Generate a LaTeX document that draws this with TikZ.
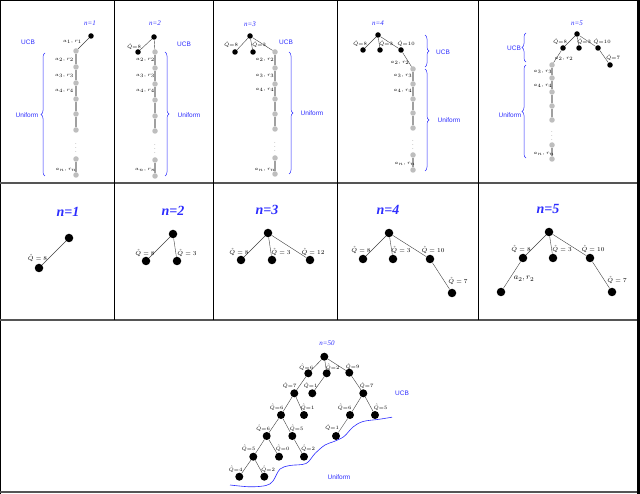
\documentclass[tikz,border=0pt]{standalone}
\usepackage{fontspec}
\newfontfamily\serfont{Liberation Serif}
\newfontfamily\sanfont{Liberation Sans}
\usetikzlibrary{decorations.pathreplacing}
\definecolor{ublue}{RGB}{45,45,255}
\definecolor{nodegray}{RGB}{190,190,190}
\definecolor{chaingray}{RGB}{160,160,160}
\definecolor{sepgray}{RGB}{85,85,85}
\begin{document}
\begin{tikzpicture}[x=1pt,y=-1pt,
 bn/.style={circle,fill=black,inner sep=0,minimum size=5.5pt},
 gn/.style={circle,fill=nodegray,inner sep=0,minimum size=5.5pt},
 mn/.style={circle,fill=black,inner sep=0,minimum size=8.5pt},
 sn/.style={circle,fill=black,inner sep=0,minimum size=8pt},
 edge/.style={draw=black!75,line width=0.4pt},
 chain/.style={draw=chaingray,line width=1.6pt},
 vdts/.style={inner sep=0,text=chaingray,font=\fontsize{9}{9}\selectfont},
 tl/.style={inner sep=0,font=\fontsize{4.3}{5}\selectfont},
 ml/.style={inner sep=0,font=\fontsize{6}{7}\selectfont},
 al/.style={inner sep=0,font=\fontsize{8}{9}\selectfont},
 ttl/.style={text=ublue,inner sep=0,font=\serfont\itshape\fontsize{7}{8}\selectfont},
 bigttl/.style={text=ublue,inner sep=0,font=\serfont\bfseries\itshape\fontsize{14}{15}\selectfont},
 blab/.style={text=ublue,inner sep=0,font=\sanfont\fontsize{6.5}{7}\selectfont},
 brc/.style={draw=ublue,line width=0.5pt,decorate,decoration={brace,amplitude=4pt}},
]
\useasboundingbox (0,0) rectangle (640,494);
\fill[white] (0,0) rectangle (640,494);
% frame and separators
\draw[black,line width=1pt] (0.5,0) -- (0.5,494);
\draw[black,line width=1pt] (0,1) -- (640,1);
\draw[black,line width=3pt] (638.5,0) -- (638.5,494);
\draw[sepgray,line width=2pt] (0,492) -- (637,492);
\draw[sepgray,line width=2pt] (0,183) -- (637,183);
\draw[sepgray,line width=2pt] (0,320) -- (637,320);
\foreach \xx in {114,213.5,337,478.5} \draw[black,line width=1pt] (\xx,0) -- (\xx,320);

% ===== Top row panel 1 =====
\node[ttl] (t1) at (90,23) {n=1};
\node[bn] (p1r) at (91,36) {};
\node[gn] (p1g1) at (76,51) {};
\node[gn] (p1g2) at (76,67) {};
\node[gn] (p1g3) at (76,83) {};
\node[gn] (p1g4) at (76,99) {};
\node[gn] (p1g5) at (76,114) {};
\node[gn] (p1g6) at (76,130) {};
\node[vdts] (p1d) at (76,145) {$\vdots$};
\node[gn] (p1g7) at (76,159) {};
\node[gn] (p1g8) at (76,175) {};
\draw[edge] (p1r) -- (p1g1);
\draw[chain] (p1g1) -- (p1g2) -- (p1g3) -- (p1g4) -- (p1g5) -- (p1g6);
\draw[chain] (p1g7) -- (p1g8);
\node[tl] (p1l1) at (72.5,42) {$a_1,r_1$};
\node[tl] (p1l2) at (64.5,60) {$a_2,r_2$};
\node[tl] (p1l3) at (64.5,76) {$a_3,r_3$};
\node[tl] (p1l4) at (64.5,91) {$a_4,r_4$};
\node[tl] (p1ln) at (66,170) {$a_n,r_n$};
\node[blab] (p1ucb) at (28,42) {UCB};
\draw[brc] (45,176) -- (45,53);
\node[blab] (p1uni) at (27,115) {Uniform};

% ===== Top row panel 2 =====
\node[ttl] (t2) at (155,23) {n=2};
\node[bn] (p2r) at (154,37) {};
\node[bn] (p2q1) at (138,52) {};
\node[gn] (p2g1) at (155,52) {};
\node[gn] (p2g2) at (155,68) {};
\node[gn] (p2g3) at (155,84) {};
\node[gn] (p2g4) at (155,100) {};
\node[gn] (p2g5) at (155,116) {};
\node[gn] (p2g6) at (155,131) {};
\node[vdts] (p2d) at (155,146) {$\vdots$};
\node[gn] (p2g7) at (155,160) {};
\node[gn] (p2g8) at (155,176) {};
\draw[edge] (p2r) -- (p2q1);
\draw[edge] (p2r) -- (p2g1);
\draw[chain] (p2g1) -- (p2g2) -- (p2g3) -- (p2g4) -- (p2g5) -- (p2g6);
\draw[chain] (p2g7) -- (p2g8);
\node[tl] (p2lq1) at (134,47) {$\hat{Q}{=}8$};
\node[tl] (p2l2) at (145.5,60) {$a_2,r_2$};
\node[tl] (p2l3) at (145.5,76) {$a_3,r_3$};
\node[tl] (p2l4) at (145.5,91) {$a_4,r_4$};
\node[tl] (p2ln) at (145.5,170) {$a_n,r_n$};
\node[blab] (p2ucb) at (184,44) {UCB};
\draw[brc] (165,52) -- (165,176);
\node[blab] (p2uni) at (189,115) {Uniform};

% ===== Top row panel 3 =====
\node[ttl] (t3) at (250,24) {n=3};
\node[bn] (p3r) at (250,36) {};
\node[bn] (p3q1) at (235,52) {};
\node[bn] (p3q2) at (253,52) {};
\node[gn] (p3g1) at (275,52) {};
\node[gn] (p3g2) at (275,68) {};
\node[gn] (p3g3) at (275,84) {};
\node[gn] (p3g4) at (275,99) {};
\node[gn] (p3g5) at (275,114) {};
\node[gn] (p3g6) at (275,129) {};
\node[vdts] (p3d) at (275,144) {$\vdots$};
\node[gn] (p3g7) at (275,158) {};
\node[gn] (p3g8) at (275,174) {};
\draw[edge] (p3r) -- (p3q1);
\draw[edge] (p3r) -- (p3q2);
\draw[edge] (p3r) -- (p3g1);
\draw[chain] (p3g1) -- (p3g2) -- (p3g3) -- (p3g4) -- (p3g5) -- (p3g6);
\draw[chain] (p3g7) -- (p3g8);
\node[tl] (p3lq1) at (231,45) {$\hat{Q}{=}8$};
\node[tl] (p3lq2) at (259,45) {$\hat{Q}{=}3$};
\node[tl] (p3l2) at (265,60) {$a_2,r_2$};
\node[tl] (p3l3) at (265,76) {$a_3,r_3$};
\node[tl] (p3l4) at (265,90) {$a_4,r_4$};
\node[tl] (p3ln) at (265,170) {$a_n,r_n$};
\node[blab] (p3ucb) at (286,42) {UCB};
\draw[brc] (289,52) -- (289,174);
\node[blab] (p3uni) at (312,113) {Uniform};

% ===== Top row panel 4 =====
\node[ttl] (t4) at (378,23) {n=4};
\node[bn] (p4r) at (378,35) {};
\node[bn] (p4q1) at (363,50) {};
\node[bn] (p4q2) at (380,50) {};
\node[bn] (p4q3) at (401,50) {};
\node[gn] (p4g1) at (413,69) {};
\node[gn] (p4g2) at (413,84) {};
\node[gn] (p4g3) at (413,99) {};
\node[gn] (p4g4) at (413,113) {};
\node[gn] (p4g5) at (413,128) {};
\node[vdts] (p4d) at (413,142) {$\vdots$};
\node[gn] (p4g6) at (413,155) {};
\node[gn] (p4g7) at (413,170) {};
\draw[edge] (p4r) -- (p4q1);
\draw[edge] (p4r) -- (p4q2);
\draw[edge] (p4r) -- (p4q3);
\draw[edge] (p4q3) -- (p4g1);
\draw[chain] (p4g1) -- (p4g2) -- (p4g3) -- (p4g4) -- (p4g5);
\draw[chain] (p4g6) -- (p4g7);
\node[tl] (p4lq1) at (360,44) {$\hat{Q}{=}8$};
\node[tl] (p4lq2) at (386,44) {$\hat{Q}{=}3$};
\node[tl] (p4lq3) at (406,44) {$\hat{Q}{=}10$};
\node[tl] (p4l2) at (400,63) {$a_2,r_2$};
\node[tl] (p4l3) at (403,76) {$a_3,r_3$};
\node[tl] (p4l4) at (403,91) {$a_4,r_4$};
\node[tl] (p4ln) at (405,164) {$a_n,r_n$};
\draw[brc] (425,35) -- (425,67);
\node[blab] (p4ucb) at (443,52) {UCB};
\draw[brc] (425,69) -- (425,171);
\node[blab] (p4uni) at (449,120) {Uniform};

% ===== Top row panel 5 =====
\node[ttl] (t5) at (577,23) {n=5};
\node[bn] (p5r) at (577,34) {};
\node[bn] (p5q1) at (563,48) {};
\node[bn] (p5q2) at (579,48) {};
\node[bn] (p5q3) at (598,48) {};
\node[bn] (p5q4) at (610,65) {};
\node[gn] (p5g1) at (552,65) {};
\node[gn] (p5g2) at (552,78) {};
\node[gn] (p5g3) at (552,92) {};
\node[gn] (p5g4) at (552,106) {};
\node[gn] (p5g5) at (552,120) {};
\node[vdts] (p5d) at (552,133) {$\vdots$};
\node[gn] (p5g6) at (552,145) {};
\node[gn] (p5g7) at (552,159) {};
\draw[edge] (p5r) -- (p5q1);
\draw[edge] (p5r) -- (p5q2);
\draw[edge] (p5r) -- (p5q3);
\draw[edge] (p5q3) -- (p5q4);
\draw[edge] (p5q1) -- (p5g1);
\draw[chain] (p5g1) -- (p5g2) -- (p5g3) -- (p5g4) -- (p5g5);
\draw[chain] (p5g6) -- (p5g7);
\node[tl] (p5lq1) at (560,42) {$\hat{Q}{=}8$};
\node[tl] (p5lq2) at (584,42) {$\hat{Q}{=}3$};
\node[tl] (p5lq3) at (602,42) {$\hat{Q}{=}10$};
\node[tl] (p5lq4) at (613,58) {$\hat{Q}{=}7$};
\node[tl] (p5l2) at (564,59) {$a_2,r_2$};
\node[tl] (p5l3) at (543,72) {$a_3,r_3$};
\node[tl] (p5l4) at (543,86) {$a_4,r_4$};
\node[tl] (p5ln) at (544,154) {$a_n,r_n$};
\draw[brc] (526,62) -- (526,33);
\node[blab] (p5ucb) at (514,48) {UCB};
\draw[brc] (526,158) -- (526,65);
\node[blab] (p5uni) at (510,115) {Uniform};

% ===== Middle row =====
\node[bigttl] (m1t) at (68,212) {n=1};
\node[mn] (m1r) at (69,238) {};
\node[mn] (m1a) at (39,268) {};
\draw[edge] (m1r) -- (m1a);
\node[ml] (m1la) at (37.5,258) {$\hat{Q} = 8$};

\node[bigttl] (m2t) at (173,211) {n=2};
\node[mn] (m2r) at (173,234) {};
\node[mn] (m2a) at (146,261) {};
\node[mn] (m2b) at (177,261) {};
\draw[edge] (m2r) -- (m2a);
\draw[edge] (m2r) -- (m2b);
\node[ml] (m2la) at (145,253) {$\hat{Q} = 8$};
\node[ml] (m2lb) at (187,253) {$\hat{Q} = 3$};

\node[bigttl] (m3t) at (267,210) {n=3};
\node[mn] (m3r) at (268,233) {};
\node[mn] (m3a) at (241,260) {};
\node[mn] (m3b) at (272,260) {};
\node[mn] (m3c) at (310,260) {};
\draw[edge] (m3r) -- (m3a);
\draw[edge] (m3r) -- (m3b);
\draw[edge] (m3r) -- (m3c);
\node[ml] (m3la) at (239,252) {$\hat{Q} = 8$};
\node[ml] (m3lb) at (281,252) {$\hat{Q} = 3$};
\node[ml] (m3lc) at (313,252) {$\hat{Q} = 12$};

\node[bigttl] (m4t) at (388,210) {n=4};
\node[mn] (m4r) at (389,233) {};
\node[mn] (m4a) at (363,259) {};
\node[mn] (m4b) at (393,259) {};
\node[mn] (m4c) at (430,259) {};
\node[mn] (m4d) at (452,293) {};
\draw[edge] (m4r) -- (m4a);
\draw[edge] (m4r) -- (m4b);
\draw[edge] (m4r) -- (m4c);
\draw[edge] (m4c) -- (m4d);
\node[ml] (m4la) at (361,250) {$\hat{Q} = 8$};
\node[ml] (m4lb) at (401,250) {$\hat{Q} = 3$};
\node[ml] (m4lc) at (433,250) {$\hat{Q} = 10$};
\node[ml] (m4ld) at (458,281) {$\hat{Q} = 7$};

\node[bigttl] (m5t) at (548,209) {n=5};
\node[mn] (m5r) at (549,232) {};
\node[mn] (m5a) at (523,258) {};
\node[mn] (m5b) at (553,258) {};
\node[mn] (m5c) at (590,258) {};
\node[mn] (m5e) at (501,292) {};
\node[mn] (m5d) at (612,292) {};
\draw[edge] (m5r) -- (m5a);
\draw[edge] (m5r) -- (m5b);
\draw[edge] (m5r) -- (m5c);
\draw[edge] (m5c) -- (m5d);
\draw[edge] (m5a) -- (m5e);
\node[ml] (m5la) at (521,249) {$\hat{Q} = 8$};
\node[ml] (m5lb) at (562,249) {$\hat{Q} = 3$};
\node[ml] (m5lc) at (593,249) {$\hat{Q} = 10$};
\node[ml] (m5ld) at (617,280) {$\hat{Q} = 7$};
\node[al] (m5le) at (524,279) {$a_2,r_2$};

% ===== Bottom panel =====
\node[ttl] (bt) at (327,343) {n=50};
\node[sn] (R) at (324.3,356.7) {};
\node[sn] (A) at (308.3,373.3) {};
\node[sn] (B) at (326.7,373.3) {};
\node[sn] (C) at (349.3,372.7) {};
\node[sn] (A1) at (294.3,393.3) {};
\node[sn] (B1) at (312.3,393.3) {};
\node[sn] (A1a) at (281,415) {};
\node[sn] (A1b) at (304,415) {};
\node[sn] (A1a1) at (266.7,436) {};
\node[sn] (A1a2) at (292.3,436) {};
\node[sn] (A1a1a) at (253.3,456.7) {};
\node[sn] (A1a1b) at (279,456.7) {};
\node[sn] (A1a2a) at (304,456.7) {};
\node[sn] (A1a1a1) at (239.3,476.7) {};
\node[sn] (A1a1a2) at (264.3,476.7) {};
\node[sn] (C1) at (363.3,393.3) {};
\node[sn] (C1a) at (350,415) {};
\node[sn] (C1b) at (375,415) {};
\node[sn] (C1a1) at (336,436) {};
\foreach \u/\v in {R/A,R/B,R/C,A/A1,B/B1,A1/A1a,A1/A1b,A1a/A1a1,A1a/A1a2,A1a1/A1a1a,A1a1/A1a1b,A1a2/A1a2a,A1a1a/A1a1a1,A1a1a/A1a1a2,C/C1,C1/C1a,C1/C1b,C1a/C1a1}
  \draw[edge] (\u) -- (\v);
\node[tl] (lA) at (306.2,367.3) {$\hat{Q}{=}6$};
\node[tl] (lB) at (332.5,367.3) {$\hat{Q}{=}2$};
\node[tl] (lC) at (352.5,367) {$\hat{Q}{=}9$};
\node[tl] (lA1) at (289.5,385.5) {$\hat{Q}{=}7$};
\node[tl] (lB1) at (310.5,386) {$\hat{Q}{=}1$};
\node[tl] (lA1a) at (276.5,407.3) {$\hat{Q}{=}6$};
\node[tl] (lA1b) at (307.5,407.3) {$\hat{Q}{=}1$};
\node[tl] (lA1a1) at (263,428.3) {$\hat{Q}{=}6$};
\node[tl] (lA1a2) at (296.5,428.3) {$\hat{Q}{=}5$};
\node[tl] (lA1a1a) at (248.5,448.3) {$\hat{Q}{=}5$};
\node[tl] (lA1a1b) at (282.5,448.3) {$\hat{Q}{=}0$};
\node[tl] (lA1a2a) at (308,448.3) {$\hat{Q}{=}2$};
\node[tl] (lA1a1a1) at (235.5,469.3) {$\hat{Q}{=}4$};
\node[tl] (lA1a1a2) at (268,469.3) {$\hat{Q}{=}2$};
\node[tl] (lC1) at (366.5,386) {$\hat{Q}{=}7$};
\node[tl] (lC1a) at (344.5,407.3) {$\hat{Q}{=}6$};
\node[tl] (lC1b) at (380.5,407.3) {$\hat{Q}{=}5$};
\node[tl] (lC1a1) at (332,427.7) {$\hat{Q}{=}1$};
\draw[ublue,line width=0.6pt] plot[smooth,tension=0.55] coordinates {(230,485) (250,486.8) (266,485.5) (273,481) (280,469) (290,465.5) (306,463.5) (315,453.5) (325,445) (334,441.5) (344,436.5) (353,427) (363,421.5) (379,419.3) (392,417.2)};
\node[blab] (bucb) at (402,393) {UCB};
\node[blab] (buni) at (339,477) {Uniform};
\end{tikzpicture}
\end{document}
